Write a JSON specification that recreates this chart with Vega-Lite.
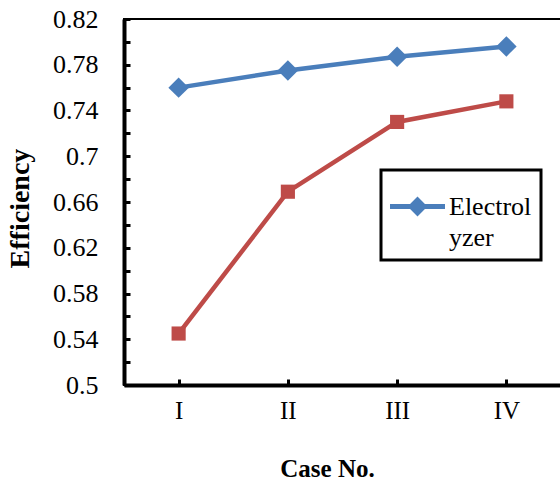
{
  "$schema": "https://vega.github.io/schema/vega-lite/v6.json",
  "width": 437,
  "height": 366,
  "autosize": {"type": "none"},
  "padding": {"left": 124, "top": 19, "right": 0, "bottom": 98},
  "background": "white",
  "config": {
    "font": "Liberation Serif",
    "view": {"stroke": "black", "strokeWidth": 2},
    "axis": {"labelFont": "Liberation Serif", "titleFont": "Liberation Serif", "labelColor": "black", "titleColor": "black", "domainColor": "black", "tickColor": "black", "grid": false},
    "legend": {"labelFont": "Liberation Serif", "titleFont": "Liberation Serif"}
  },
  "data": {
    "values": [
      {"case": "I", "series": "Electrolyzer", "efficiency": 0.760},
      {"case": "II", "series": "Electrolyzer", "efficiency": 0.775},
      {"case": "III", "series": "Electrolyzer", "efficiency": 0.787},
      {"case": "IV", "series": "Electrolyzer", "efficiency": 0.796},
      {"case": "I", "series": "Overall", "efficiency": 0.545},
      {"case": "II", "series": "Overall", "efficiency": 0.669},
      {"case": "III", "series": "Overall", "efficiency": 0.730},
      {"case": "IV", "series": "Overall", "efficiency": 0.748}
    ]
  },
  "encoding": {
    "x": {
      "field": "case",
      "type": "nominal",
      "sort": ["I", "II", "III", "IV"],
      "scale": {"type": "point", "padding": 0.5},
      "axis": {
        "title": "Case No.",
        "titleFontSize": 25,
        "titleFontWeight": "bold",
        "titlePadding": 33,
        "titleX": 203,
        "labelFontSize": 25,
        "labelAngle": 0,
        "labelPadding": 19,
        "domainWidth": 4,
        "tickSize": -6,
        "tickWidth": 3
      }
    },
    "y": {
      "field": "efficiency",
      "type": "quantitative",
      "scale": {"domain": [0.5, 0.82], "nice": false, "zero": false},
      "axis": {
        "title": "Efficiency",
        "titleFontSize": 28,
        "titleFontWeight": "bold",
        "titlePadding": 18,
        "titleY": 189,
        "values": [0.5, 0.52, 0.54, 0.56, 0.58, 0.6, 0.62, 0.64, 0.66, 0.68, 0.7, 0.72, 0.74, 0.76, 0.78, 0.8, 0.82],
        "labelExpr": "round(datum.value * 100) % 4 == 0 ? '' : format(datum.value, '.2~f')",
        "labelFontSize": 26,
        "labelPadding": 32,
        "domainWidth": 4,
        "tickSize": -6,
        "tickWidth": 3
      }
    },
    "color": {
      "field": "series",
      "type": "nominal",
      "scale": {"domain": ["Electrolyzer", "Overall"], "range": ["#4A7EBB", "#BE4B48"]},
      "legend": {
        "values": ["Electrolyzer"],
        "title": null,
        "orient": "none",
        "legendX": 257,
        "legendY": 151,
        "strokeColor": "black",
        "fillColor": "white",
        "padding": 9,
        "symbolType": "M-1,-0.09L-0.27,-0.09L0,-0.36L0.27,-0.09L1,-0.09L1,0.09L0.27,0.09L0,0.36L-0.27,0.09L-1,0.09Z",
        "symbolSize": 3025,
        "symbolFillColor": "#4A7EBB",
        "symbolStrokeWidth": 0,
        "labelFontSize": 26,
        "labelColor": "black",
        "labelExpr": "['Electrol', 'yzer']",
        "labelOffset": 4,
        "encode": {
          "legend": {"update": {"strokeWidth": {"value": 3}}},
          "labels": {"update": {"lineHeight": {"value": 31}}},
          "symbols": {"update": {
            "shape": {"value": "M-1,-0.09L-0.27,-0.09L0,-0.36L0.27,-0.09L1,-0.09L1,0.09L0.27,0.09L0,0.36L-0.27,0.09L-1,0.09Z"},
            "size": {"value": 3025},
            "fill": {"value": "#4A7EBB"},
            "fillOpacity": {"value": 1},
            "opacity": {"value": 1}
          }}
        }
      }
    }
  },
  "layer": [
    {"mark": {"type": "line", "strokeWidth": 4.5}},
    {
      "transform": [{"filter": "datum.series === 'Electrolyzer'"}],
      "mark": {"type": "point", "shape": "diamond", "size": 420, "filled": true, "opacity": 1}
    },
    {
      "transform": [{"filter": "datum.series === 'Overall'"}],
      "mark": {"type": "point", "shape": "square", "size": 200, "filled": true, "opacity": 1}
    }
  ]
}
